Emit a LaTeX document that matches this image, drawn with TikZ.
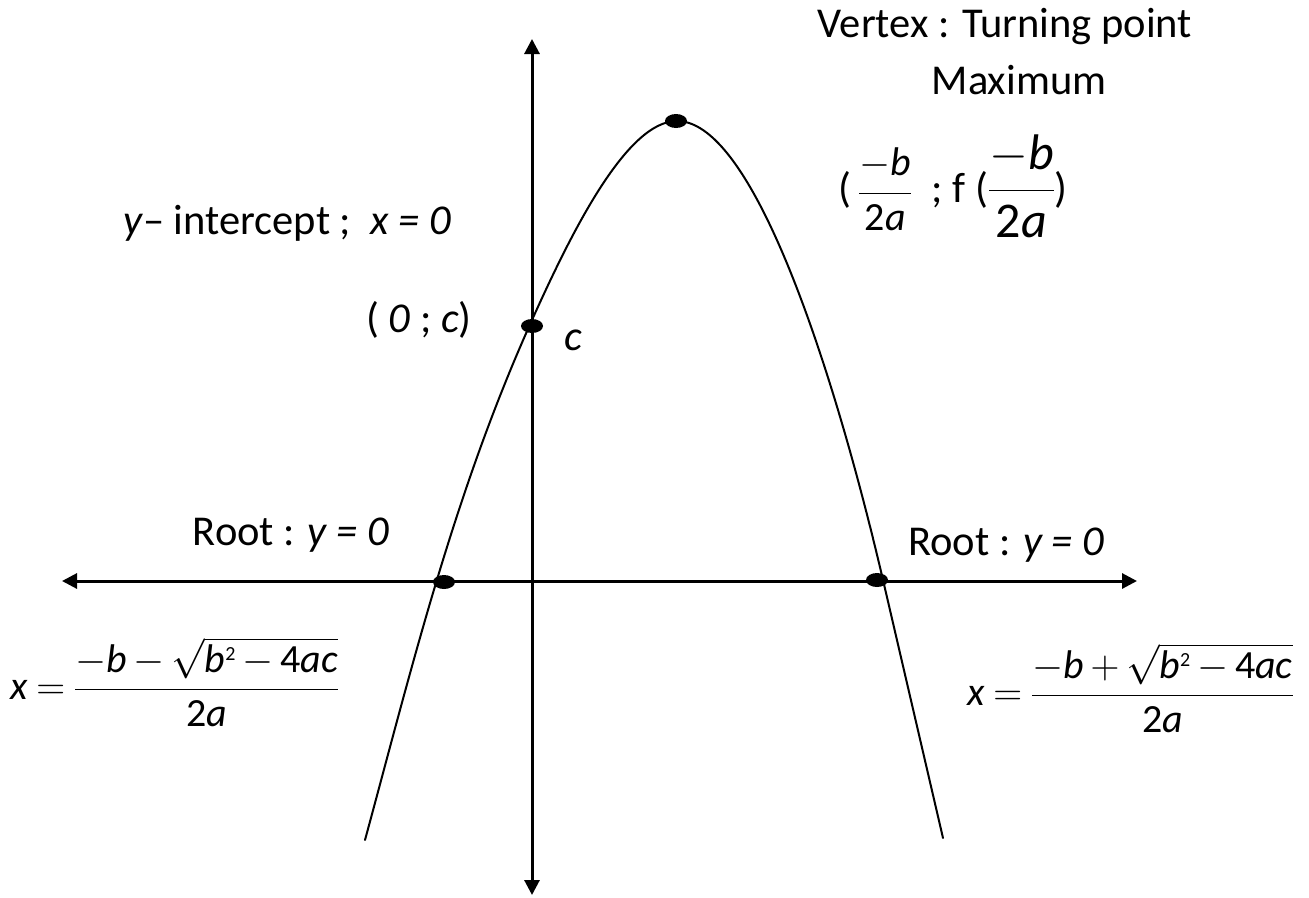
\documentclass[tikz,border=0pt]{standalone}
\usepackage{fix-cm}
\usepackage{fontspec}
\setmainfont{Carlito}
\usetikzlibrary{arrows.meta,shapes.geometric}

\newcommand\tightmath{\medmuskip=3mu\relax\thickmuskip=4mu\relax}

\tikzset{
  axis/.style={line width=3pt, {Triangle[width=15pt,length=15pt]}-{Triangle[width=15pt,length=15pt]}},
  curve/.style={line width=2pt},
  dot/.style={ellipse, fill=black, inner sep=0pt, minimum width=22pt, minimum height=14pt},
  lbl/.style={inner sep=0pt, font=\fontsize{42.5}{50}\selectfont},
  form/.style={inner sep=0pt, font=\fontsize{40}{46}\selectfont\tightmath},
}

\begin{document}
\begin{tikzpicture}[x=1pt, y=-1pt, line cap=round, line join=round]

  %% ════ axes ════
  \coordinate (xl) at (62,581);
  \coordinate (xr) at (1137,581);
  \coordinate (yt) at (532,39);
  \coordinate (yb) at (532,895);
  \draw[axis] (xl) -- (xr);
  \draw[axis] (yt) -- (yb);

  %% ════ parabola ════
  \draw[curve] (365,840) .. controls (412,667) and (454,493) .. (532,320)
    .. controls (572.5,230) and (627,121) .. (677,121)
    .. controls (757,121) and (838.7,390) .. (883,580) -- (943,838);

  %% ════ points ════
  \node[dot] (vertex) at (676,121) {};
  \node[dot] (yint)   at (532,326) {};
  \node[dot] (rootl)  at (444,582) {};
  \node[dot] (rootr)  at (877,580) {};

  %% ════ labels ════
  \node[lbl] (vtxtitle) at (1005,27) {Vertex : Turning point};
  \node[lbl] (vtxmax)   at (1019,80) {Maximum};
  \node[lbl, anchor=west] (vtxcoord) at (838,186)
    {(\,{\fontsize{40}{44}\selectfont$\displaystyle\frac{-\mathit{b}}{\mathrm{2}\mathit{a}}$}\ \ ; f (%
     {\fontsize{50}{56}\selectfont$\displaystyle\frac{-\mathit{b}}{\mathrm{2}\mathit{a}}$})};
  \node[lbl, anchor=west] (yinttxt) at (123,223) {\textit{y}– intercept ;\ \ \textit{x = 0}};
  \node[lbl, anchor=east] (yintpt)  at (472,320) {( \textit{0} ; \textit{c})};
  \node[lbl] (cval) at (573,340) {\textit{c}};
  \node[lbl] (rootltxt) at (291,535) {Root : \textit{y = 0}};
  \node[lbl, anchor=west] (rootrtxt) at (908,545) {Root : \textit{y = 0}};
  \node[form, anchor=west] (rootlform) at (10,682)
    {$\mathit{x}=\displaystyle\frac{-\mathit{b}-\sqrt{\mathit{b}^{\scriptscriptstyle\mathrm{2}}-\mathrm{4}\mathit{ac}}}{\mathrm{2}\mathit{a}}$};
  \node[form, anchor=west] (rootrform) at (967,688)
    {$\mathit{x}=\displaystyle\frac{-\mathit{b}+\sqrt{\mathit{b}^{\scriptscriptstyle\mathrm{2}}-\mathrm{4}\mathit{ac}}}{\mathrm{2}\mathit{a}}$};

  % fix the canvas to the reference size
  \pgfresetboundingbox
  \path[use as bounding box] (0,0) rectangle (1309,897);
\end{tikzpicture}
\end{document}
